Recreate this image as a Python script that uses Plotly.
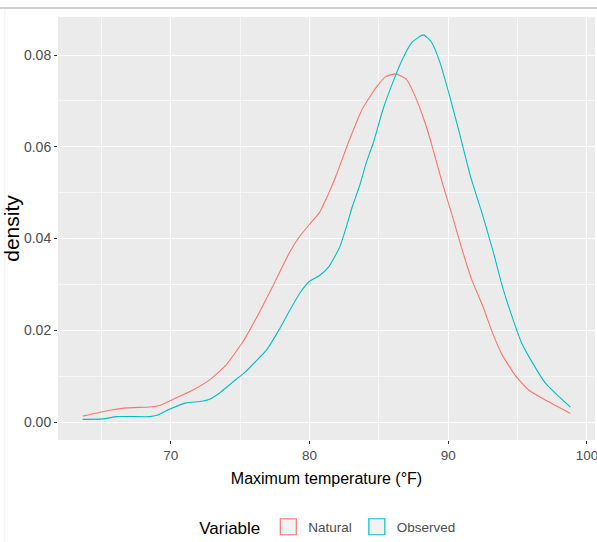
import plotly.graph_objects as go

# Natural series (temperature °F, density)
natural_temp = [63.65, 65.6, 66.8, 68.5, 69.2, 70.2, 71.6, 72.8, 74.0, 75.2, 75.7, 76.4,
                77.4, 78.6, 79.3, 80.0, 80.7, 81.4, 81.9, 82.9, 83.8, 84.8, 85.5, 86.2,
                86.96, 87.7, 88.4, 88.9, 89.5, 90.3, 91.0, 91.7, 92.5, 93.2, 93.9, 94.9,
                95.8, 97.0, 98.8]
natural_density = [0.0013, 0.0026, 0.0031, 0.0033, 0.0036, 0.0050, 0.0070, 0.0092, 0.0125,
                   0.0175, 0.0201, 0.0240, 0.0299, 0.0372, 0.0405, 0.0431, 0.0456, 0.0500,
                   0.0536, 0.0617, 0.0682, 0.0729, 0.0753, 0.0759, 0.0748, 0.0704, 0.0646,
                   0.0595, 0.0529, 0.0449, 0.0376, 0.0310, 0.0252, 0.0194, 0.0146, 0.0099,
                   0.0070, 0.0048, 0.0019]

# Observed series
observed_temp = [63.65, 65.1, 66.1, 68.5, 69.0, 69.9, 71.1, 72.1, 72.8, 73.5, 74.5, 75.4,
                 76.4, 76.9, 77.8, 78.6, 79.3, 80.0, 80.7, 81.4, 82.2, 82.6, 83.1, 83.6,
                 84.1, 84.6, 85.3, 86.0, 86.7, 87.4, 88.2, 88.8, 89.4, 90.1, 90.8,
                 91.6, 92.5, 93.2, 93.9, 94.6, 95.3, 96.1, 97.0, 98.0, 98.8]
observed_density = [0.0006, 0.0007, 0.0012, 0.0012, 0.0015, 0.0028, 0.0042, 0.0045, 0.0050,
                    0.0063, 0.0088, 0.0110, 0.0141, 0.0157, 0.0201, 0.0245, 0.0281, 0.0307,
                    0.0319, 0.0339, 0.0383, 0.0420, 0.0471, 0.0514, 0.0566, 0.0609, 0.0682,
                    0.0740, 0.0791, 0.0828, 0.0844, 0.0828, 0.0784, 0.0711, 0.0631,
                    0.0536, 0.0449, 0.0376, 0.0296, 0.0230, 0.0172, 0.0128, 0.0085, 0.0055,
                    0.0033]

series_names = ["Natural", "Observed"]
series_colors = ["#F8766D", "#00BFC4"]

x_ticks = [70, 80, 90, 100]
y_ticks = [0.00, 0.02, 0.04, 0.06, 0.08]
y_tick_labels = ["0.00", "0.02", "0.04", "0.06", "0.08"]

FONT = "Liberation Sans, Arial, sans-serif"

fig = go.Figure()
for name, xs, ys, col in zip(series_names, [natural_temp, observed_temp],
                             [natural_density, observed_density], series_colors):
    fig.add_trace(go.Scatter(x=xs, y=ys, mode="lines", name=name,
                             line=dict(color=col, width=1.1, shape="spline", smoothing=0.5),
                             showlegend=False))
    # legend key (ggplot-style outlined box)
    fig.add_trace(go.Scatter(x=[None], y=[None], mode="markers", name=name,
                             marker=dict(symbol="square", size=16, color="#F2F2F2",
                                         line=dict(color=col, width=1.2)),
                             showlegend=True))

fig.update_layout(
    width=597, height=542,
    margin=dict(l=58, r=2, t=17, b=102, autoexpand=False),
    paper_bgcolor="white",
    plot_bgcolor="#EBEBEB",
    font=dict(family=FONT, color="#4D4D4D", size=14),
    xaxis=dict(range=[61.87, 100.58], tickvals=x_ticks, showgrid=True, gridcolor="white",
               gridwidth=1.4, zeroline=False, ticks="outside", ticklen=3, tickcolor="#333333",
               ticklabeloverflow="allow", automargin=False,
               tickfont=dict(family=FONT, size=13.5, color="#4D4D4D"),
               minor=dict(dtick=5, tick0=65, showgrid=True, gridcolor="#F7F7F7", gridwidth=0.7),
               title=dict(text="Maximum temperature (°F)",
                          font=dict(family=FONT, size=16, color="black"), standoff=10)),
    yaxis=dict(range=[-0.0039, 0.0883], tickvals=y_ticks, ticktext=y_tick_labels,
               showgrid=True, gridcolor="white", gridwidth=1.4, zeroline=False,
               ticks="outside", ticklen=3, tickcolor="#333333", automargin=False,
               tickfont=dict(family=FONT, size=14, color="#4D4D4D"),
               minor=dict(dtick=0.01, tick0=0.01, showgrid=True, gridcolor="#F7F7F7", gridwidth=0.7),
               title=dict(text="density", font=dict(family=FONT, size=21, color="black"),
                          standoff=0)),
    legend=dict(orientation="h", x=0.505, xanchor="center", y=-0.208, yanchor="middle",
                title=dict(text="Variable", font=dict(family=FONT, size=17, color="black")),
                font=dict(family=FONT, size=13.5, color="#4D4D4D"),
                itemsizing="trace", bgcolor="rgba(0,0,0,0)"),
    shapes=[
        dict(type="line", xref="paper", yref="paper", x0=-0.2, x1=1.2,
             y0=1.0213, y1=1.0213, line=dict(color="#C0C0C0", width=1.5)),
        dict(type="line", xref="paper", yref="paper", x0=-0.099, x1=-0.099,
             y0=1.018, y1=-0.25, line=dict(color="#F0F0F0", width=1)),
    ],
)

fig.write_html("out.html",
               config={"displayModeBar": False},
               post_script="document.body.style.margin='0';document.body.style.overflow='hidden';")
